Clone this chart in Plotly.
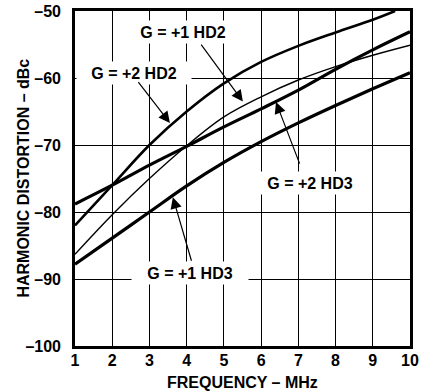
import plotly.graph_objects as go

# Frequency (MHz)
freq = [1, 2, 3, 4, 5, 6, 7, 8, 9, 10]
freq_g2_hd2 = [1, 2, 3, 4, 5, 6, 7, 8, 9, 9.6]

# Harmonic distortion (dBc)
g2_hd2 = [-82.0, -76.0, -70.0, -65.0, -60.8, -57.6, -55.2, -53.2, -51.3, -50.0]
g1_hd2 = [-86.3, -80.4, -75.0, -70.1, -65.8, -62.8, -60.3, -58.3, -56.6, -55.1]
g2_hd3 = [-78.8, -76.0, -73.0, -70.2, -67.3, -64.6, -61.8, -58.7, -55.8, -53.1]
g1_hd3 = [-87.8, -83.9, -80.0, -76.1, -72.6, -69.5, -66.7, -64.1, -61.6, -59.2]

x_ticks = [1, 2, 3, 4, 5, 6, 7, 8, 9, 10]
y_ticks = [-100, -90, -80, -70, -60, -50]
y_ticktext = ["–100", "–90", "–80", "–70", "–60", "–50"]

labels = ["G = +1 HD2", "G = +2 HD2", "G = +2 HD3", "G = +1 HD3"]
label_pos = [(3.90, -53.1), (2.585, -59.25), (7.31, -75.7), (4.09, -89.1)]
label_w = [108, 114, 112, 116]
arrow_tail = [(4.36, -54.8), (2.67, -60.4), (7.05, -73.0), (4.14, -87.5)]
arrow_tip = [(5.51, -63.5), (3.55, -66.7), (6.40, -63.6), (3.63, -77.8)]

FONT = "Liberation Sans, Arial, sans-serif"

fig = go.Figure()
series = [
    (freq_g2_hd2, g2_hd2, 2.6),
    (freq, g1_hd2, 1.4),
    (freq, g2_hd3, 3.2),
    (freq, g1_hd3, 3.2),
]
for xs, ys, w in series:
    fig.add_trace(go.Scatter(x=xs, y=ys, mode="lines",
                             line=dict(color="black", width=w, shape="spline", smoothing=1.0),
                             showlegend=False, hoverinfo="skip"))

anns = []
for txt, (lx, ly), w in zip(labels, label_pos, label_w):
    anns.append(dict(x=lx, y=ly, xref="x", yref="y", text="<b>" + txt + "</b>",
                     showarrow=False, bgcolor="white", width=w, height=22,
                     borderpad=0, font=dict(family=FONT, size=16, color="black")))
for (tx, ty), (hx, hy) in zip(arrow_tail, arrow_tip):
    anns.append(dict(x=hx, y=hy, xref="x", yref="y", ax=tx, ay=ty, axref="x", ayref="y",
                     text="", showarrow=True, arrowhead=2, arrowsize=1.9,
                     arrowwidth=1.2, arrowcolor="black"))

# axis titles
anns.append(dict(x=0.5, y=-0.1075, xref="paper", yref="paper", xanchor="center", yanchor="middle",
                 text="<b>FREQUENCY – MHz</b>", showarrow=False,
                 font=dict(family=FONT, size=16, color="black")))
anns.append(dict(x=-0.155, y=0.5, xref="paper", yref="paper", xanchor="center", yanchor="middle",
                 text="<b>HARMONIC DISTORTION – dBc</b>", showarrow=False, textangle=-90,
                 font=dict(family=FONT, size=16, color="black")))

fig.update_layout(
    width=434, height=391,
    margin=dict(l=75, r=24, t=11, b=45, pad=0),
    paper_bgcolor="white", plot_bgcolor="white",
    font=dict(family=FONT, color="black"),
    annotations=anns,
    xaxis=dict(range=[1, 10], tickvals=x_ticks, ticktext=["<b>%d</b>" % v for v in x_ticks],
               showgrid=True, gridcolor="black", gridwidth=1.3, automargin=False,
               showline=True, linecolor="black", linewidth=2.6, mirror=True,
               zeroline=False, ticks="", ticklabelstandoff=-2,
               tickfont=dict(family=FONT, size=16, color="black")),
    yaxis=dict(range=[-100, -50], tickvals=y_ticks, ticktext=["<b>%s</b>" % t for t in y_ticktext],
               showgrid=True, gridcolor="black", gridwidth=1.3, automargin=False,
               showline=True, linecolor="black", linewidth=2.6, mirror=True,
               zeroline=False, ticks="outside", ticklen=8, tickcolor="white",
               tickfont=dict(family=FONT, size=16, color="black")),
)

fig.write_html("out.html")
